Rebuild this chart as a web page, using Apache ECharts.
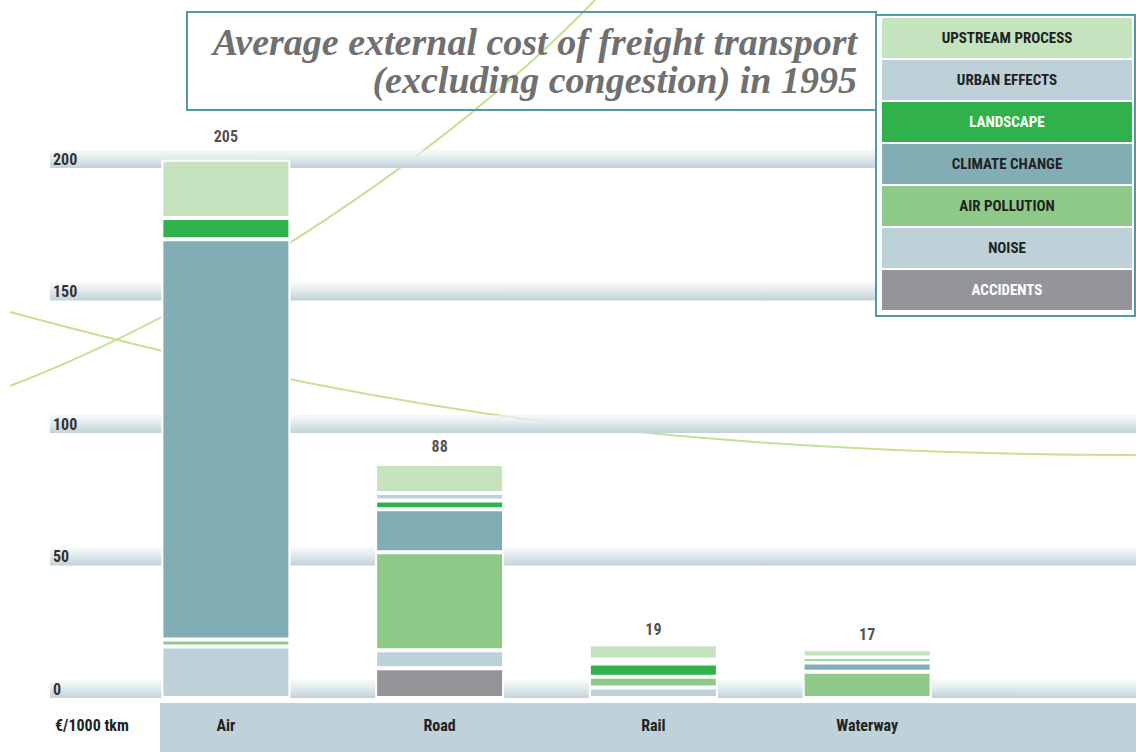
<!DOCTYPE html>
<html><head><meta charset="utf-8">
<script src="https://cdn.jsdelivr.net/npm/echarts@6/dist/echarts.min.js"></script>
<style>html,body{margin:0;padding:0;background:#fff}#c{width:1136px;height:752px}</style>
</head><body><div id="c"></div>
<script>
// ---- data ----
const categories = ['Air', 'Road', 'Rail', 'Waterway'];
const totals = [205, 88, 19, 17];
const accidents = [0, 11.2, 0, 0];
const noise = [19.4, 6.8, 4.0, 0];
const airPollution = [2.7, 37.0, 4.0, 9.9];
const climateChange = [151.0, 16.2, 0, 3.5];
const landscape = [8.0, 3.3, 5.0, 1.9];
const urbanEffects = [0, 2.9, 1.5, 0];
const upstreamProcess = [22.0, 10.9, 5.8, 3.1];
const yTicks = [0, 50, 100, 150, 200];
const unitLabel = '€/1000 tkm';
const titleLines = ['Average external cost of freight transport', '(excluding congestion) in 1995'];

// ---- styling ----
const FONT = "'Liberation Sans Narrow','Roboto Condensed','Roboto','Liberation Sans',sans-serif";
const TEAL = '#4f9ba3';
const layers = [
  { name: 'ACCIDENTS', data: accidents, color: '#949598', text: '#ffffff' },
  { name: 'NOISE', data: noise, color: '#bed1d8', text: '#222222' },
  { name: 'AIR POLLUTION', data: airPollution, color: '#8fc98a', text: '#222222' },
  { name: 'CLIMATE CHANGE', data: climateChange, color: '#82adb4', text: '#222222' },
  { name: 'LANDSCAPE', data: landscape, color: '#30b14b', text: '#ffffff' },
  { name: 'URBAN EFFECTS', data: urbanEffects, color: '#bed1d8', text: '#222222' },
  { name: 'UPSTREAM PROCESS', data: upstreamProcess, color: '#c5e3bf', text: '#222222' }
];
const YMAX = 240;
const BAND = 6.8; // band height in axis units

const chart = echarts.init(document.getElementById('c'), null, { renderer: 'svg' });

const bandGradient = {
  type: 'linear', x: 0, y: 0, x2: 0, y2: 1,
  colorStops: [{ offset: 0, color: 'rgba(240,245,247,0.6)' }, { offset: 0.5, color: '#dfe8eb' }, { offset: 1, color: '#c2d2d8' }]
};

const series = [
  {
    type: 'line', xAxisIndex: 0, yAxisIndex: 0, data: [], silent: true, z: 1,
    markArea: {
      silent: true, z: 1,
      itemStyle: { color: bandGradient },
      data: yTicks.map(v => [{ yAxis: v }, { yAxis: v + BAND }])
    }
  }
];
layers.forEach(l => {
  series.push({
    name: l.name, type: 'bar', stack: 'cost', xAxisIndex: 1, yAxisIndex: 1,
    data: l.data, barWidth: 129, z: 3,
    itemStyle: { color: l.color, borderColor: '#ffffff', borderWidth: 2 }
  });
});
series.push({
  name: 'total', type: 'scatter', xAxisIndex: 1, yAxisIndex: 1, data: totals,
  symbolSize: 0, z: 4, silent: true,
  label: { show: true, position: 'top', distance: 10, formatter: '{c}', fontFamily: FONT, fontSize: 16, fontWeight: 'bold', color: '#222' }
});

const option = {
  backgroundColor: '#ffffff',
  animation: false,
  title: {
    text: '{t|' + titleLines[0] + '}\n{t|' + titleLines[1] + '}',
    left: 187, top: 12, padding: [11, 19, 11, 18], z: 6,
    borderColor: TEAL, borderWidth: 2,
    textStyle: {
      rich: { t: { width: 652, align: 'right', fontFamily: "'Liberation Serif','DejaVu Serif',serif", fontStyle: 'italic', fontSize: 38, lineHeight: 38, color: '#707070' } }
    }
  },
  legend: {
    orient: 'vertical', left: 876, top: 15, padding: [3, 3, 6, 0], itemGap: 2,
    itemWidth: 0, itemHeight: 0, icon: 'rect', selectedMode: false, z: 6,
    borderColor: TEAL, borderWidth: 2, backgroundColor: '#ffffff',
    formatter: n => '{a|' + n + '}',
    textStyle: {
      fontFamily: FONT, fontSize: 15, fontWeight: 'bold',
      rich: { a: { width: 250, height: 40, lineHeight: 40, align: 'center', fontFamily: FONT, fontSize: 15, fontWeight: 'bold' } }
    },
    data: layers.slice().reverse().map(l => ({ name: l.name, textStyle: { backgroundColor: l.color, color: l.text } }))
  },
  grid: [
    { left: 50, right: 0, top: 62, bottom: 54, outerBoundsMode: 'none' },
    { left: 119, right: 162, top: 62, bottom: 54, outerBoundsMode: 'none' }
  ],
  xAxis: [
    { type: 'value', gridIndex: 0, min: 0, max: 1, show: false },
    {
      type: 'category', gridIndex: 1, data: categories, z: 5,
      axisLine: { show: false }, axisTick: { show: false },
      axisLabel: { margin: 19, fontFamily: FONT, fontSize: 16, fontWeight: 'bold', color: '#222' }
    }
  ],
  yAxis: [
    {
      type: 'value', gridIndex: 0, min: 0, max: YMAX, interval: 50, z: 5,
      name: unitLabel, nameLocation: 'start', nameGap: 27,
      nameTextStyle: { align: 'left', verticalAlign: 'middle', padding: [0, 0, 0, 5], fontFamily: FONT, fontSize: 16, fontWeight: 'bold', color: '#222' },
      axisLine: { show: false }, axisTick: { show: false }, splitLine: { show: false },
      axisLabel: { inside: true, margin: 3, verticalAlign: 'bottom', showMaxLabel: false, padding: [0, 0, 1, 0], fontFamily: FONT, fontSize: 16, fontWeight: 'bold', color: '#333' }
    },
    { type: 'value', gridIndex: 1, min: 0, max: YMAX, show: false }
  ],
  graphic: [
    { type: 'rect', z: 0, silent: true, shape: { x: 160, y: 703, width: 976, height: 49 }, style: { fill: '#bfd2d9' } },
    { type: 'bezierCurve', z: 0, silent: true, shape: { x1: 10, y1: 386, cpx1: 220, cpy1: 305, cpx2: 450, cpy2: 150, x2: 595, y2: 0 }, style: { stroke: '#c8df96', lineWidth: 2, fill: null } },
    { type: 'bezierCurve', z: 0, silent: true, shape: { x1: 10, y1: 312, cpx1: 300, cpy1: 390, cpx2: 600, cpy2: 455, x2: 1136, y2: 455 }, style: { stroke: '#c8df96', lineWidth: 2, fill: null } }
  ],
  series: series
};
chart.setOption(option);
</script>
</body></html>
